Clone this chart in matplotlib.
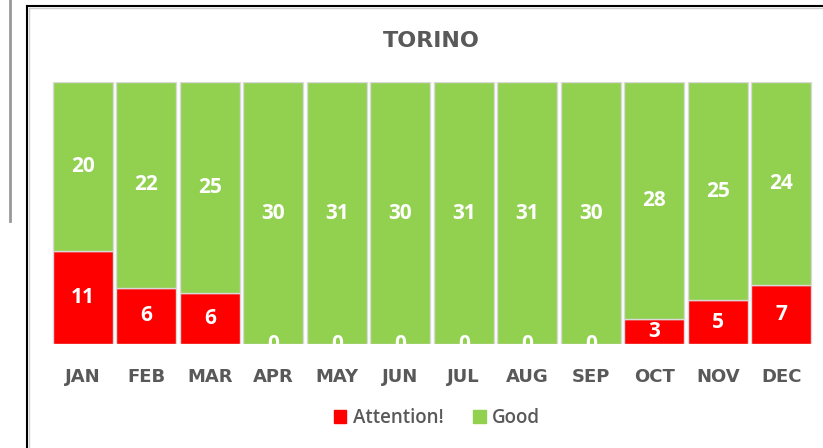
import numpy as np
import matplotlib
matplotlib.use("Agg")
import matplotlib.pyplot as plt
from matplotlib.lines import Line2D
from matplotlib.patches import Patch

months = ["JAN", "FEB", "MAR", "APR", "MAY", "JUN", "JUL", "AUG", "SEP", "OCT", "NOV", "DEC"]
attention = [11, 6, 6, 0, 0, 0, 0, 0, 0, 3, 5, 7]
good = [20, 22, 25, 30, 31, 30, 31, 31, 30, 28, 25, 24]

RED = "#ff0000"
GREEN = "#92d050"
GREY_TXT = "#595959"

plt.rcParams["font.family"] = ["Open Sans", "DejaVu Sans"]

W, H = 823, 448
fig = plt.figure(figsize=(W / 100, H / 100), dpi=100)
ax = fig.add_axes([51 / W, 1 - 344 / H, (813 - 51) / W, (344 - 82) / H])

att = np.array(attention, float); gd = np.array(good, float)
tot = att + gd
fa = att / tot; fg = gd / tot
x = np.arange(len(months))

ax.bar(x, fa, width=0.95, color=RED, edgecolor="#d9d9d9", lw=1)
ax.bar(x, fg, bottom=fa, width=0.95, color=GREEN, edgecolor="#d9d9d9", lw=1)

for i in range(len(months)):
    ax.text(x[i], fa[i] / 2, str(attention[i]), ha="center", va="center",
            color="white", fontsize=15, fontweight="bold", clip_on=True)
    ax.text(x[i], fa[i] + fg[i] / 2, str(good[i]), ha="center", va="center",
            color="white", fontsize=15, fontweight="bold")

ax.set_xlim(-0.5, len(months) - 0.5)
ax.set_ylim(0, 1)
ax.set_yticks([])
ax.set_xticks(x)
ax.set_xticklabels(months, fontsize=13, fontweight="bold", color=GREY_TXT,
                   family="DejaVu Sans")
ax.tick_params(axis="x", length=0, pad=17)
for s in ax.spines.values():
    s.set_visible(False)

fig.text(431 / W, 1 - 41 / H, "TORINO", ha="center", va="center", family="DejaVu Sans",
         fontsize=16, fontweight="bold", color=GREY_TXT)

handles = [Patch(color=RED, label="Attention!"), Patch(color=GREEN, label="Good")]
leg = fig.legend(handles=handles, loc="center", bbox_to_anchor=(437 / W, 1 - 418 / H),
                 ncol=2, frameon=False, prop={"size": 13.5, "weight": 600},
                 handlelength=0.65, handleheight=0.65, handletextpad=0.35,
                 columnspacing=1.6, labelcolor=GREY_TXT)

# surrounding frame lines
fig.add_artist(Line2D([10 / W, 10 / W], [1, 1 - 221 / H], color="#999999", lw=2))
fig.add_artist(Line2D([27 / W, 27 / W], [0, 1 - 6 / H], color="black", lw=1.5))
fig.add_artist(Line2D([27 / W, 1], [1 - 6 / H, 1 - 6 / H], color="black", lw=1.5))
fig.add_artist(Line2D([29 / W, 29 / W], [0, 1 - 8 / H], color="#d0d0d0", lw=1))
fig.add_artist(Line2D([29 / W, 1], [1 - 8 / H, 1 - 8 / H], color="#d0d0d0", lw=1))

fig.savefig("out.png", dpi=100)
